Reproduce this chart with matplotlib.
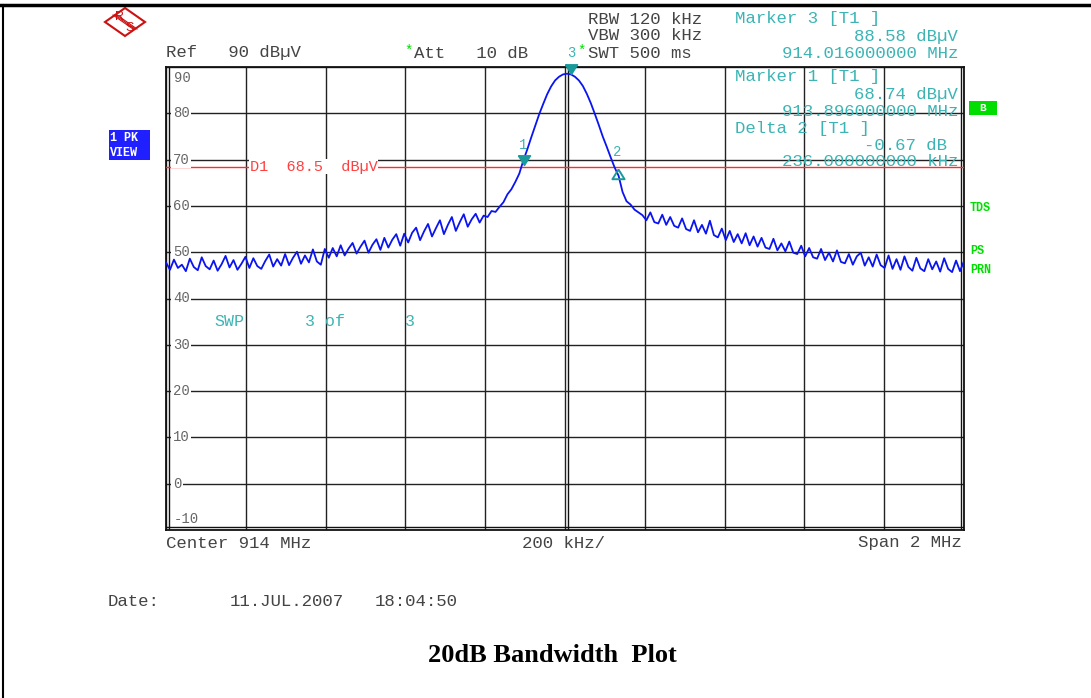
import matplotlib
matplotlib.use('Agg')
import matplotlib.pyplot as plt
from matplotlib.patches import Polygon, Rectangle
import numpy as np

# trace, 201 points from 913.00 to 915.00 MHz (10 kHz steps), dBuV
start_mhz = 913.0
stop_mhz = 915.0
level_dbuv = [
    47.8, 46.2, 48.4, 46.6, 47.3, 45.9, 48.6, 46.8, 46.1, 48.9, 47.0, 46.3, 48.2, 46.0, 47.4, 49.2, 46.7, 48.3, 46.2, 47.5, 49.0,
    46.6, 48.7, 47.0, 46.4, 48.1, 49.5, 46.9, 48.5, 47.1, 49.6, 47.2, 48.8, 50.1, 47.5, 49.3, 47.8, 50.6, 48.0, 47.3, 50.7,
    48.8, 50.9, 49.1, 51.5, 49.3, 50.8, 52.0, 49.7, 51.2, 52.5, 49.9, 51.6, 52.8, 50.5, 53.1, 51.0, 52.7, 53.9, 51.4, 54.0,
    52.1, 54.2, 55.3, 52.6, 54.5, 56.1, 53.4, 55.2, 56.9, 53.9, 55.9, 57.6, 54.6, 56.5, 58.2, 55.5, 57.1, 58.3, 56.4, 57.9,
    57.6, 58.9, 58.7, 59.8, 60.8, 62.5, 63.6, 65.2, 67.0,
    69.8,
    72.2, 74.8, 77.3, 79.8, 82.0, 84.1, 85.8, 87.1, 87.9, 88.4,
    88.55, 88.4, 87.9, 87.1, 85.9, 84.2, 82.2, 79.9, 77.5, 75.0, 72.8, 70.5, 68.3, 66.5, 63.0, 61.0, 60.3, 59.2, 58.6, 58.0,
    56.9, 58.6, 56.5, 56.2, 58.1, 55.9, 57.6, 55.7, 55.3, 57.3, 55.0, 54.6, 56.9, 54.3, 55.9, 54.0, 56.8, 53.7, 53.2, 55.1,
    52.6, 54.6, 52.2, 53.9, 51.9, 54.1, 51.5, 53.4, 51.2, 53.1, 51.0, 50.7, 52.9, 50.4, 51.9, 50.2, 52.3, 49.9, 49.6, 51.4,
    49.1, 50.9, 48.9, 48.6, 50.7, 48.3, 49.9, 48.0, 50.4, 47.9, 47.6, 49.6, 47.3, 49.1, 49.9, 47.1, 48.9, 46.9, 49.5, 47.2,
    46.6, 49.3, 46.4, 48.5, 46.2, 49.1, 46.8, 46.0, 48.8, 46.5, 45.9, 48.5, 46.3, 48.0, 45.8, 48.7, 46.4, 45.7, 48.2, 45.9, 48.1,
]

marker_ids = ['1', '2', '3']
marker_freq = [913.896, 914.132, 914.016]
marker_level = [68.74, 68.07, 88.58]
display_line = 68.5

y_ticks = [90, 80, 70, 60, 50, 40, 30, 20, 10, 0, -10]

W, H = 1091, 698
MONO = 'Liberation Mono'
CYAN = '#3cb4b4'
TEAL = '#1a9a9a'
GREEN = '#00dd00'
INK = '#444444'


def fx(x):
    return x / W


def fy(y):
    return 1 - y / H


fig = plt.figure(figsize=(W / 100, H / 100), dpi=100)
ax = fig.add_axes([fx(166), fy(530), 798 / W, 463 / H])

freq = np.linspace(start_mhz, stop_mhz, len(level_dbuv))
ax.set_xlim(start_mhz, stop_mhz)
ax.set_ylim(-10, 90)
ax.set_xticks(np.arange(start_mhz, stop_mhz + 0.01, 0.2))
ax.set_yticks(y_ticks)
ax.tick_params(length=0, labelbottom=False, labelleft=False)
ax.grid(True, color='#222222', lw=1.0)
ax.set_axisbelow(True)
for s in ax.spines.values():
    s.set_linewidth(1.3)
    s.set_color('#111111')

# double lines on the frame and centre
ax.axvline(start_mhz + 0.008, color='#111111', lw=1.0)
ax.axvline(stop_mhz - 0.008, color='#111111', lw=1.0)
ax.axvline(914.0 + 0.008, color='#111111', lw=1.0)
ax.axhline(-10 + 0.6, color='#111111', lw=1.0)

# display line
ax.axhline(display_line, color='#ff2a2a', lw=1.0, zorder=3)
ax.text(913.21, display_line, 'D1  68.5  dB\u00b5V', family=MONO, fontsize=11, color='#ff4040',
        va='center', ha='left', zorder=4,
        bbox=dict(facecolor='white', edgecolor='none', pad=0.5))

# y labels inside the grid
for v in y_ticks:
    if v == 90:
        ax.annotate('90', (913.02, v), xytext=(0, -3), textcoords='offset points',
                    va='top', ha='left', family=MONO, fontsize=10, color='#666666')
    elif v == -10:
        ax.annotate('-10', (913.02, v), xytext=(0, 3), textcoords='offset points',
                    va='bottom', ha='left', family=MONO, fontsize=10, color='#666666')
    else:
        ax.text(913.017, v, str(v), va='center', ha='left', family=MONO, fontsize=10,
                color='#666666', bbox=dict(facecolor='white', edgecolor='none', pad=1.0))

ax.plot(freq, level_dbuv, color='#0a14f0', lw=1.3, zorder=5)

# markers
down_tri = [(-0.75, 1.2), (0.75, 1.2), (0, 0), (-0.75, 1.2)]
up_tri = [(0, 0), (0.75, -1.2), (-0.75, -1.2), (0, 0)]
for mid, f, lv in zip(marker_ids, marker_freq, marker_level):
    if mid == '2':
        ax.plot(f, lv, marker=up_tri, ms=14, mfc='none', mec=TEAL, mew=1.4, zorder=6, clip_on=False)
        off = 7
    else:
        ax.plot(f, lv, marker=down_tri, ms=14, mfc=TEAL, mec=TEAL, zorder=6, clip_on=False)
        off = 10
    ax.annotate(mid, (f, lv), xytext=(0, off), textcoords='offset points', ha='center', va='bottom',
                family=MONO, fontsize=10, color=CYAN, annotation_clip=False)

# swp text
for x, s in [(214, 'SWP'), (305, '3'), (325, 'of'), (405, '3')]:
    fig.text(fx(x), fy(321), s, family=MONO, fontsize=12, color=CYAN, va='center')

fs = 12.5
# header texts
fig.text(fx(166), fy(53), 'Ref   90 dB\u00b5V', family=MONO, fontsize=fs, color=INK, va='center')
fig.text(fx(404), fy(51), '*', family=MONO, fontsize=10, color=GREEN, va='center')
fig.text(fx(414), fy(53), 'Att   10 dB', family=MONO, fontsize=fs, color=INK, va='center')
fig.text(fx(588), fy(19), 'RBW 120 kHz', family=MONO, fontsize=fs, color=INK, va='center')
fig.text(fx(588), fy(36), 'VBW 300 kHz', family=MONO, fontsize=fs, color=INK, va='center')
fig.text(fx(577), fy(51), '*', family=MONO, fontsize=10, color=GREEN, va='center')
fig.text(fx(588), fy(53), 'SWT 500 ms', family=MONO, fontsize=fs, color=INK, va='center')

fig.text(fx(735), fy(19), 'Marker 3 [T1 ]', family=MONO, fontsize=fs, color=CYAN, va='center')
fig.text(fx(958), fy(36), '88.58 dB\u00b5V', family=MONO, fontsize=fs, color=CYAN, va='center', ha='right')
fig.text(fx(958), fy(53), '914.016000000 MHz', family=MONO, fontsize=fs, color=CYAN, va='center', ha='right')
fig.text(fx(735), fy(77), 'Marker 1 [T1 ]', family=MONO, fontsize=fs, color=CYAN, va='center', zorder=10)
fig.text(fx(958), fy(94), '68.74 dB\u00b5V', family=MONO, fontsize=fs, color=CYAN, va='center', ha='right', zorder=10)
fig.text(fx(958), fy(111), '913.896000000 MHz', family=MONO, fontsize=fs, color=CYAN, va='center', ha='right', zorder=10)
fig.text(fx(735), fy(128), 'Delta 2 [T1 ]', family=MONO, fontsize=fs, color=CYAN, va='center', zorder=10)
fig.text(fx(947), fy(145), '-0.67 dB', family=MONO, fontsize=fs, color=CYAN, va='center', ha='right', zorder=10)
fig.text(fx(958), fy(162), '236.000000000 kHz', family=MONO, fontsize=fs, color=CYAN, va='center', ha='right', zorder=10)

# right side annotations
fig.patches.append(Rectangle((fx(969), fy(115)), 28 / W, 14 / H, transform=fig.transFigure,
                             facecolor=GREEN, edgecolor='none'))
fig.text(fx(983), fy(108), 'B', family=MONO, fontsize=8, weight='bold', color='white', ha='center', va='center')
for y, s in [(208, 'TDS'), (251, 'PS'), (270, 'PRN')]:
    fig.text(fx(970), fy(y), s, family=MONO, fontsize=8.5, weight='bold', color=GREEN, va='center')

# 1 PK VIEW box
fig.patches.append(Rectangle((fx(109), fy(160)), 41 / W, 30 / H, transform=fig.transFigure,
                             facecolor='#1f1fff', edgecolor='none'))
fig.text(fx(110), fy(138), '1 PK', family=MONO, fontsize=8.5, weight='bold', color='white', va='center')
fig.text(fx(110), fy(153), 'VIEW', family=MONO, fontsize=8.5, weight='bold', color='white', va='center')

# R&S logo
cx, cy = 125, 22
diamond = [(fx(cx - 20), fy(cy)), (fx(cx), fy(cy - 14)), (fx(cx + 20), fy(cy)), (fx(cx), fy(cy + 14))]
fig.patches.append(Polygon(diamond, closed=True, transform=fig.transFigure, facecolor='white',
                           edgecolor='#cc1111', lw=1.5))
for d in (-2, 0, 2):
    fig.lines.append(plt.Line2D([fx(cx - 10 + d), fx(cx + 10 + d)], [fy(cy - 7), fy(cy + 7)],
                                transform=fig.transFigure, color='#cc1111', lw=0.8))
fig.text(fx(cx - 5), fy(cy - 5), 'R', fontsize=9, color='#cc1111', ha='center', va='center', family='Liberation Sans')
fig.text(fx(cx + 5), fy(cy + 6), 'S', fontsize=9, color='#cc1111', ha='center', va='center', family='Liberation Sans')

# bottom texts
fig.text(fx(166), fy(543), 'Center 914 MHz', family=MONO, fontsize=fs, color=INK, va='center')
fig.text(fx(522), fy(543), '200 kHz/', family=MONO, fontsize=fs, color=INK, va='center')
fig.text(fx(962), fy(543), 'Span 2 MHz', family=MONO, fontsize=fs, color=INK, va='center', ha='right')
fig.text(fx(108), fy(601), 'Date:', family=MONO, fontsize=fs, color=INK, va='center')
fig.text(fx(230), fy(601), '11.JUL.2007', family=MONO, fontsize=fs, color=INK, va='center')
fig.text(fx(375), fy(601), '18:04:50', family=MONO, fontsize=fs, color=INK, va='center')

fig.text(fx(552), fy(656), '20dB Bandwidth  Plot', family='Liberation Serif', weight='bold',
         fontsize=19, color='black', ha='center', va='center')

# page frame
fig.lines.append(plt.Line2D([0, 1], [fy(5), fy(5)], transform=fig.transFigure, color='black', lw=2.5))
fig.lines.append(plt.Line2D([fx(3), fx(3)], [fy(5), 0], transform=fig.transFigure, color='black', lw=1.5))

fig.savefig('out.png', dpi=100)
